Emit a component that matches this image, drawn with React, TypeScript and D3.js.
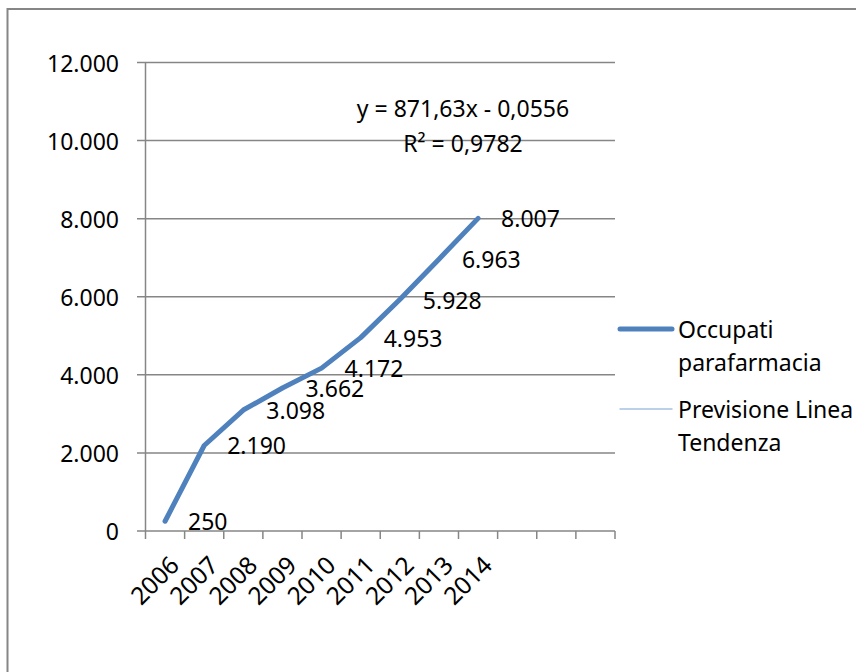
import React from "react";
import * as d3 from "d3";

const categories = ["2006", "2007", "2008", "2009", "2010", "2011", "2012", "2013", "2014", "", "", ""];
const values = [250, 2190, 3098, 3662, 4172, 4953, 5928, 6963, 8007];
const valueLabels = ["250", "2.190", "3.098", "3.662", "4.172", "4.953", "5.928", "6.963", "8.007"];
const yTicks = [0, 2000, 4000, 6000, 8000, 10000, 12000];
const yTickLabels = ["0", "2.000", "4.000", "6.000", "8.000", "10.000", "12.000"];
const legendItems = [
  { lines: ["Occupati", "parafarmacia"], color: "#4F81BD", width: 5 },
  { lines: ["Previsione Linea", "Tendenza"], color: "#A7C1E3", width: 1.5 },
];
const equationLines = ["y = 871,63x - 0,0556", "R² = 0,9782"];

const W = 856;
const H = 672;
const FONT = "'Noto Sans', sans-serif";
const FS = 23;

export default function App() {
  const x = d3.scaleBand<number>().domain(d3.range(categories.length)).range([145.5, 615]);
  const y = d3.scaleLinear().domain([0, 12000]).range([531, 62.5]);
  const line = d3
    .line<number>()
    .x((_, i) => x(i)! + x.bandwidth() / 2)
    .y((d) => y(d));
  const grid = "#868686";
  const tickEdges = d3.range(categories.length + 1).map((i) => 145.5 + i * x.step());

  return (
    <svg
      width={W}
      height={H}
      style={{ position: "absolute", left: 0, top: 0, background: "#fff" }}
      fontFamily={FONT}
      fontSize={FS}
    >
      <rect x={0} y={0} width={W} height={H} fill="#fff" />
      <rect x={7.5} y={9} width={W + 20} height={H + 20} fill="none" stroke={grid} strokeWidth={2} />
      {/* gridlines */}
      {yTicks.map((t, i) => (
        <g key={i}>
          <line x1={137} x2={615} y1={y(t)} y2={y(t)} stroke={grid} strokeWidth={1.5} />
          <text x={119} y={y(t)} textAnchor="end" dominantBaseline="central" fill="#000">
            {yTickLabels[i]}
          </text>
        </g>
      ))}
      {/* y axis */}
      <line x1={145.5} x2={145.5} y1={62.5} y2={531} stroke={grid} strokeWidth={1.5} />
      {/* x ticks */}
      {tickEdges.map((e, i) => (
        <line key={i} x1={e} x2={e} y1={531} y2={539} stroke={grid} strokeWidth={1.5} />
      ))}
      {categories.map((c, i) =>
        c ? (
          <text
            key={i}
            transform={`translate(${x(i)! + x.bandwidth() / 2 + 9},${560}) rotate(-45)`}
            textAnchor="end"
            dominantBaseline="central"
            fontSize={24.5}
            fill="#000"
          >
            {c}
          </text>
        ) : null
      )}
      {/* data line */}
      <path d={line(values)!} fill="none" stroke="#4F81BD" strokeWidth={5} strokeLinecap="round" strokeLinejoin="round" />
      {values.map((v, i) => (
        <text
          key={i}
          x={x(i)! + x.bandwidth() / 2 + 23}
          y={y(v)}
          dominantBaseline="central"
          fill="#000"
        >
          {valueLabels[i]}
        </text>
      ))}
      {/* equation */}
      {equationLines.map((l, i) => (
        <text key={i} x={463} y={108 + i * 35} textAnchor="middle" dominantBaseline="central" fill="#000">
          {l}
        </text>
      ))}
      {/* legend */}
      {legendItems.map((it, i) => {
        const ly = i === 0 ? 329 : 409;
        return (
          <g key={i}>
            <line x1={620} x2={672} y1={ly} y2={ly} stroke={it.color} strokeWidth={it.width} strokeLinecap="round" />
            {it.lines.map((t, j) => (
              <text key={j} x={678} y={ly + j * 32.5} dominantBaseline="central" fill="#000">
                {t}
              </text>
            ))}
          </g>
        );
      })}
    </svg>
  );
}
